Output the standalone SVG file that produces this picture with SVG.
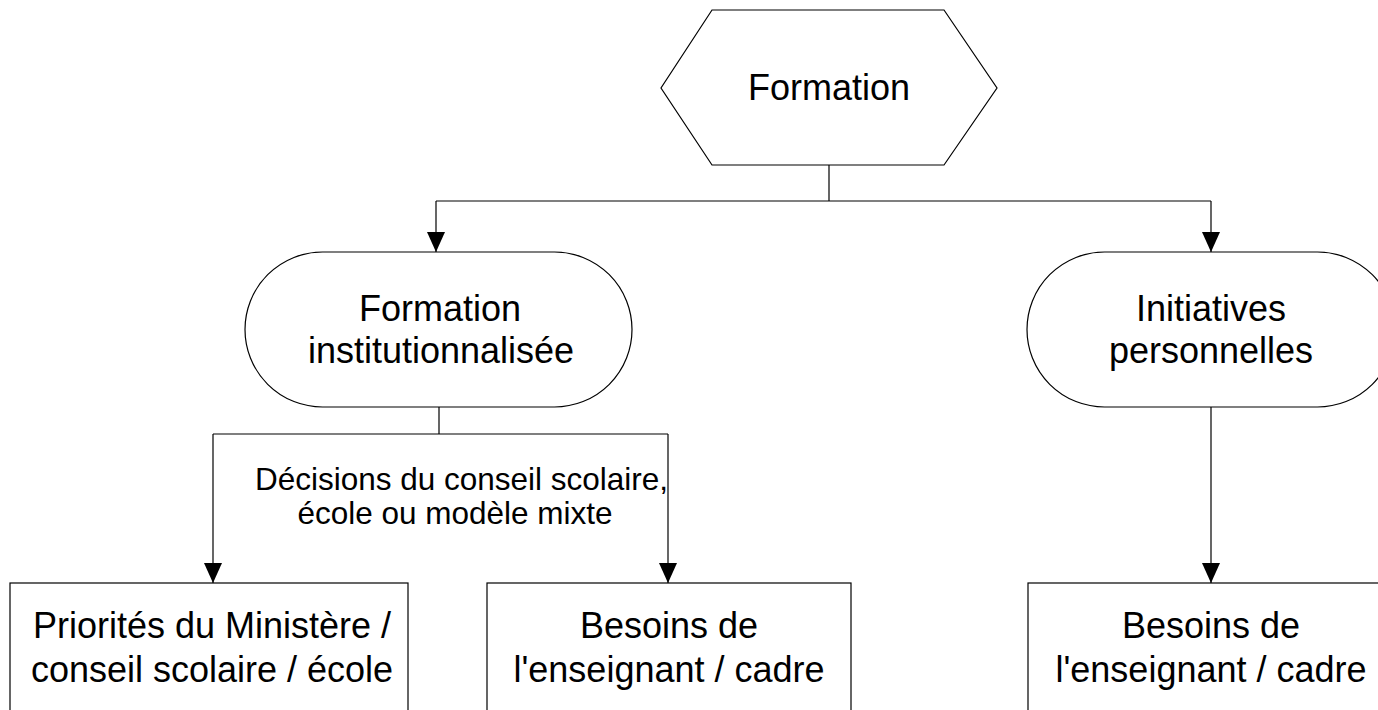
<svg xmlns="http://www.w3.org/2000/svg" width="1378" height="710" viewBox="0 0 1378 710">
<style>
.shape{fill:#fff;stroke:#000;stroke-width:1.2}
.conn{fill:none;stroke:#000;stroke-width:1.2}
.t{font-family:"Liberation Sans",Arial,sans-serif;font-size:36px;fill:#000;text-anchor:middle}
.lbl{font-family:"Liberation Sans",Arial,sans-serif;font-size:31.5px;fill:#000;text-anchor:middle}
</style>
<defs>
<marker id="arr" viewBox="0 0 20 18" refX="20" refY="9" markerWidth="20" markerHeight="18" markerUnits="userSpaceOnUse" orient="auto">
<path d="M0,0 L20,9 L0,18 Z" fill="#000"/>
</marker>
</defs>
<rect width="1378" height="710" fill="#fff"/>
<g id="connectors">
<path class="conn" d="M829,165 V201 M436,201 H1211"/>
<path class="conn" d="M436,201 V252" marker-end="url(#arr)"/>
<path class="conn" d="M1211,201 V252" marker-end="url(#arr)"/>
<path class="conn" d="M439,407 V434 M213,434 H668"/>
<path class="conn" d="M213,434 V583" marker-end="url(#arr)"/>
<path class="conn" d="M668,434 V583" marker-end="url(#arr)"/>
<path class="conn" d="M1211,407 V583" marker-end="url(#arr)"/>
<text class="lbl" x="461.5" y="490">Décisions du conseil scolaire,</text>
<text class="lbl" x="455" y="524">école ou modèle mixte</text>
</g>
<g id="formation">
<polygon class="shape" points="712,10 944,10 997,88 944,165 712,165 661,88"/>
<text class="t" x="829" y="100">Formation</text>
</g>
<g id="institutionnalisee">
<rect class="shape" x="245" y="252" width="387" height="155" rx="77.5" ry="77.5"/>
<text class="t" x="440" y="321">Formation</text>
<text class="t" x="441" y="363">institutionnalisée</text>
</g>
<g id="initiatives">
<rect class="shape" x="1027" y="252" width="368" height="155" rx="77.5" ry="77.5"/>
<text class="t" x="1211" y="321">Initiatives</text>
<text class="t" x="1211" y="363">personnelles</text>
</g>
<g id="priorites">
<rect class="shape" x="10" y="583" width="398" height="140"/>
<text class="t" x="212" y="638">Priorités du Ministère /</text>
<text class="t" x="212" y="682">conseil scolaire / école</text>
</g>
<g id="besoins1">
<rect class="shape" x="487" y="583" width="364" height="140"/>
<text class="t" x="669" y="638">Besoins de</text>
<text class="t" x="669" y="682">l'enseignant / cadre</text>
</g>
<g id="besoins2">
<rect class="shape" x="1028" y="583" width="372" height="140"/>
<text class="t" x="1211" y="638">Besoins de</text>
<text class="t" x="1211" y="682">l'enseignant / cadre</text>
</g>
</svg>
